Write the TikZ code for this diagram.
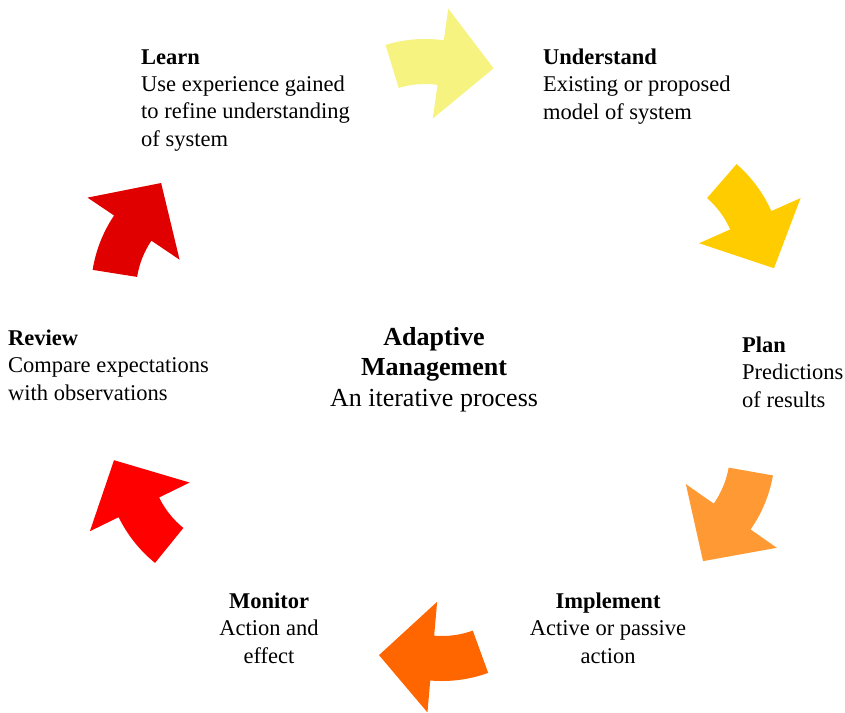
\documentclass[tikz,border=0pt]{standalone}
\usepackage{fontspec}
\setmainfont{Liberation Serif}
\usetikzlibrary{positioning}

\definecolor{cycyellow}{RGB}{247,243,128}
\definecolor{cycgold}{RGB}{255,204,0}
\definecolor{cycorange}{RGB}{255,153,51}
\definecolor{cycdeep}{RGB}{255,102,0}
\definecolor{cycred}{RGB}{255,0,0}
\definecolor{cycdark}{RGB}{224,0,0}

\tikzset{
  steptext/.style={anchor=base west, align=left, inner sep=0pt,
    font=\fontsize{22.5}{27.3}\selectfont},
  stepmid/.style={steptext, anchor=base, align=center},
}

% curved block arrow: centre x, centre y, angle of the head, colour
\newcommand{\cyclearrow}[4]{%
  \fill[#4, shift={(#1,#2)}] (#3-25:135) arc[start angle=#3-25, end angle=#3, radius=135]
    -- (#3:167) -- (#3+25:126) -- (#3:56) -- (#3:90)
    arc[start angle=#3, end angle=#3-25, radius=90] -- cycle;}

\begin{document}
\begin{tikzpicture}[x=1pt, y=-1pt]
  \useasboundingbox (0,0) rectangle (845,712);

  \cyclearrow{425}{174}{-82}{cycyellow}
  \cyclearrow{648}{266}{-24}{cycgold}
  \cyclearrow{640}{452}{35}{cycorange}
  \cyclearrow{442}{546}{95}{cycdeep}
  \cyclearrow{240}{458}{154}{cycred}
  \cyclearrow{226}{291}{214}{cycdark}

  % nodes sit on the baseline of their last line
  \node[steptext] (learn) at (141,146) {\textbf{Learn}\\Use experience gained\\to refine understanding\\of system};
  \node[steptext] (understand) at (543,119) {\textbf{Understand}\\Existing or proposed\\model of system};
  \node[steptext] (plan) at (742,407) {\textbf{Plan}\\Predictions\\of results};
  \node[stepmid] (implement) at (608,663) {\textbf{Implement}\\Active or passive\\action};
  \node[stepmid] (monitor) at (269,663) {\textbf{Monitor}\\Action and\\effect};
  \node[steptext] (review) at (8,400) {\textbf{Review}\\Compare expectations\\with observations};

  \node[stepmid, font=\fontsize{26}{30.5}\selectfont] (centre) at (434,406)
    {\textbf{Adaptive}\\\textbf{Management}\\An iterative process};
\end{tikzpicture}
\end{document}
